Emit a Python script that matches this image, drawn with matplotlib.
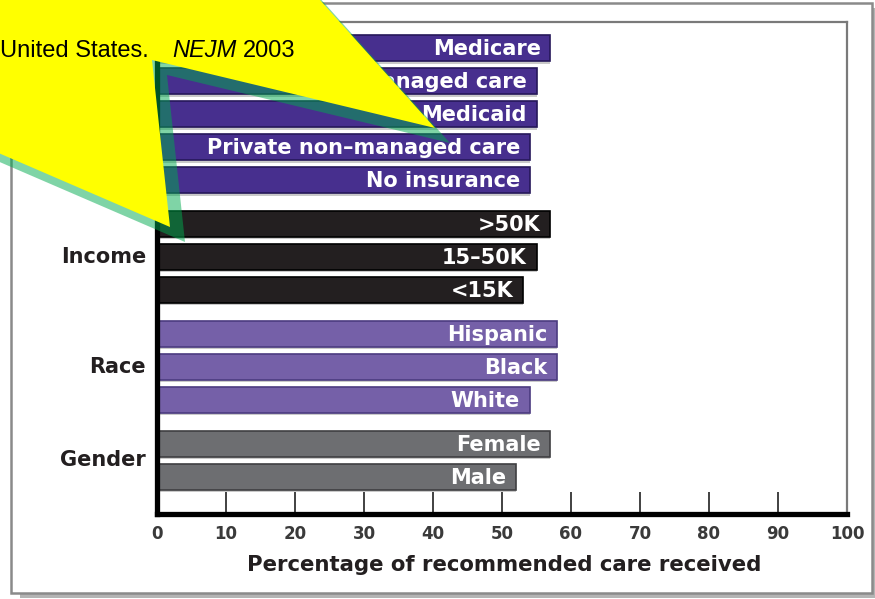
import matplotlib
matplotlib.use('Agg')
import matplotlib.pyplot as plt
from matplotlib.patches import Polygon, Rectangle
import numpy as np

# ---- data ----
ins_labels = ['Medicare', 'Managed care', 'Medicaid', 'Private non\u2013managed care', 'No insurance']
ins_values = [57, 55, 55, 54, 54]
inc_labels = ['>50K', '15\u201350K', '<15K']
inc_values = [57, 55, 53]
race_labels = ['Hispanic', 'Black', 'White']
race_values = [58, 58, 54]
gender_labels = ['Female', 'Male']
gender_values = [57, 52]
group_names = ['Income', 'Race', 'Gender']
xticks = [0, 10, 20, 30, 40, 50, 60, 70, 80, 90, 100]
xlabel = 'Percentage of recommended care received'
callout_text = 'United States.'
callout_journal = 'NEJM'
callout_year = '2003'

colors = ['#472f8e', '#231f20', '#7560a8', '#6d6e71']
edges = ['#26185a', '#000000', '#4b3b80', '#3f3f42']

W, H = 875, 599
FONT = 'DejaVu Sans'

def fx(x):
    return x / W

def fy(y):
    return 1 - y / H

fig = plt.figure(figsize=(W / 100, H / 100), dpi=100)
fig.patch.set_facecolor('white')

# outer slide frame with shadow
fig.add_artist(Rectangle((fx(20), fy(598)), fx(855), 5 / H, transform=fig.transFigure,
                         facecolor='#b4b4b4', edgecolor='none', zorder=-2))
fig.add_artist(Rectangle((fx(872), fy(598)), fx(4), 590 / H, transform=fig.transFigure,
                         facecolor='#b4b4b4', edgecolor='none', zorder=-2))
fig.add_artist(Rectangle((fx(11), fy(593)), fx(861), 590 / H, transform=fig.transFigure,
                         facecolor='white', edgecolor='#8a8a8a', lw=1.8, zorder=-1))

ax = fig.add_axes([fx(157), fy(514), fx(847 - 157), (514 - 22) / H])
ax.set_facecolor('white')

groups = [(ins_labels, ins_values), (inc_labels, inc_values),
          (race_labels, race_values), (gender_labels, gender_values)]
step_gap = 1.33
pos = 0.0
group_centers = []
for gi, (labs, vals) in enumerate(groups):
    ys = []
    for lab, v in zip(labs, vals):
        ys.append(pos)
        # light shadow under bar
        ax.barh(pos + 0.07, v, height=0.8, color='#c9c9c9', edgecolor='none', zorder=1)
        ax.barh(pos, v, height=0.8, color=colors[gi], edgecolor=edges[gi], lw=1.2, zorder=2)
        ax.text(v - 1.4, pos + 0.03, lab, color='white', fontsize=15, fontweight='bold',
                family=FONT, ha='right', va='center', zorder=3)
        pos += 1
    group_centers.append(np.mean(ys))
    pos += step_gap - 1

for name, c in zip(group_names, group_centers[1:]):
    ax.text(-0.016, c, name, transform=ax.get_yaxis_transform(), ha='right', va='center',
            fontsize=15, fontweight='bold', family=FONT, color='#231f20')

ax.set_xlim(0, 100)
ax.set_ylim(14.12, -0.79)
ax.set_yticks([])
ax.set_xticks(xticks)
ax.set_xticklabels([str(t) for t in xticks], family=FONT, fontsize=12, fontweight='bold',
                   color='#3a3a3a')
ax.tick_params(axis='x', direction='in', length=16, width=1.3, color='#333333', pad=8)
for s in ['left', 'bottom']:
    ax.spines[s].set_linewidth(3.8)
    ax.spines[s].set_color('black')
for s in ['top', 'right']:
    ax.spines[s].set_linewidth(1.6)
    ax.spines[s].set_color('#7a7a7a')

fig.text(fx(504), fy(565), xlabel, ha='center', va='center', fontsize=15.3, fontweight='bold',
         family=FONT, color='#231f20')

# callout (yellow with green translucent shadow)
pts = [(-20, -20), (302, -20), (435, 128), (152, 60), (170, 227), (-20, 145)]
off = 15
shadow = [(fx(x + off), fy(y + off)) for x, y in pts]
yellow = [(fx(x), fy(y)) for x, y in pts]
fig.add_artist(Polygon(shadow, closed=True, transform=fig.transFigure, facecolor='#00ab4e',
                       alpha=0.5, edgecolor='none', zorder=5))
fig.add_artist(Polygon(yellow, closed=True, transform=fig.transFigure, facecolor='#ffff00',
                       edgecolor='none', zorder=6))
fig.text(fx(0.5), fy(57), callout_text, ha='left', va='baseline', fontsize=17,
         family='Liberation Sans', color='black', zorder=7)
fig.text(fx(172), fy(57), callout_journal, ha='left', va='baseline', fontsize=17,
         family='Liberation Sans', style='italic', color='black', zorder=7)
fig.text(fx(243), fy(57), callout_year, ha='left', va='baseline', fontsize=17,
         family='Liberation Sans', color='black', zorder=7)

fig.savefig('out.png', dpi=100)
